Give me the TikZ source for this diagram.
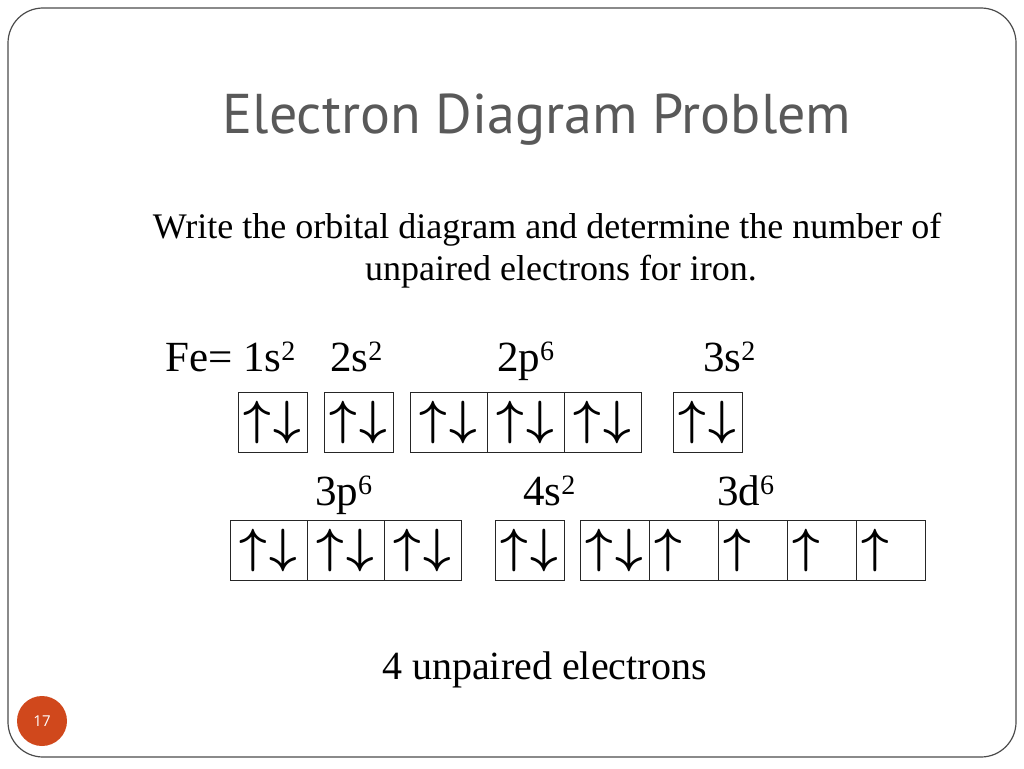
\RequirePackage{fix-cm}
\documentclass[tikz,border=0pt]{standalone}
\usepackage{fontspec}
\setmainfont{Liberation Serif}
\newfontfamily\titlefont{PT Sans}
\newfontfamily\numfont{Open Sans}
\usetikzlibrary{positioning}
\definecolor{slidegray}{RGB}{89,89,89}
\definecolor{framegray}{RGB}{75,75,75}
\definecolor{numorange}{RGB}{208,72,28}
\newcommand{\spinup}{\boldmath$\uparrow$}
\newcommand{\spindown}{\boldmath$\downarrow$}
\newcommand{\pairup}{\raisebox{3pt}{\spinup\hspace{3pt}\spindown}}
\newcommand{\singleup}{\raisebox{3pt}{\spinup\hspace{3pt}\phantom{\spindown}}}
\newcommand{\sups}[1]{\raisebox{10.5pt}{\fontsize{28}{28}\selectfont #1}}
\tikzset{
    orb/.style={draw=black!85, line width=0.8pt, minimum height=60pt, inner sep=0pt,
                outer sep=0pt, font=\fontsize{48}{48}\selectfont},
    sorb/.style={orb, minimum width=69pt},
    porb/.style={orb, minimum width=77pt},
    lbl/.style={anchor=base west, inner sep=0pt, font=\fontsize{43}{48}\selectfont},
}

\begin{document}
\begin{tikzpicture}[x=1pt, y=-1pt]
    \useasboundingbox (0,0) rectangle (1024,768);
    \draw[framegray, line width=1.2pt, rounded corners=35pt] (8,8) rectangle (1016,757);

    % title and task
    \node[font=\titlefont\fontsize{56}{60}\selectfont, text=slidegray] (title) at (537,120) {Electron Diagram Problem};
    \node[font=\fontsize{36}{40}\selectfont] (task1) at (547,230) {Write the orbital diagram and determine the number of};
    \node[font=\fontsize{36}{40}\selectfont] (task2) at (561,272) {unpaired electrons for iron.};

    % first row
    \node[lbl] (fe) at (165,371) {Fe= 1s\sups{2}};
    \node[lbl] (l2s) at (330,371) {2s\sups{2}};
    \node[lbl] (l2p) at (497,371) {2p\sups{6}};
    \node[lbl] (l3s) at (703,371) {3s\sups{2}};

    \node[sorb] (s1) at (272.5,422.5) {\pairup};
    \node[sorb] (s2) at (358.5,422.5) {\pairup};
    \node[porb] (p2a) at (448.5,422.5) {\pairup};
    \node[porb, right=0pt of p2a] (p2b) {\pairup};
    \node[porb, right=0pt of p2b] (p2c) {\pairup};
    \node[sorb] (s3) at (707.5,422.5) {\pairup};

    % second row
    \node[lbl] (l3p) at (315,505) {3p\sups{6}};
    \node[lbl] (l4s) at (523,505) {4s\sups{2}};
    \node[lbl] (l3d) at (717,505) {3d\sups{6}};

    \node[porb] (p3a) at (268.5,550) {\pairup};
    \node[porb, right=0pt of p3a] (p3b) {\pairup};
    \node[porb, right=0pt of p3b] (p3c) {\pairup};
    \node[sorb] (s4) at (529.5,550) {\pairup};
    \node[sorb] (d3a) at (614.5,550) {\pairup};
    \node[sorb, right=0pt of d3a] (d3b) {\singleup};
    \node[sorb, right=0pt of d3b] (d3c) {\singleup};
    \node[sorb, right=0pt of d3c] (d3d) {\singleup};
    \node[sorb, right=0pt of d3d] (d3e) {\singleup};

    \node[lbl, font=\fontsize{40}{48}\selectfont] (answer) at (382,679) {4 unpaired electrons};

    % slide number
    \node[circle, fill=numorange, minimum size=50pt, inner sep=0pt, text=white,
          font=\numfont\fontsize{15}{15}\selectfont] (pg) at (42,721) {17};
\end{tikzpicture}
\end{document}
